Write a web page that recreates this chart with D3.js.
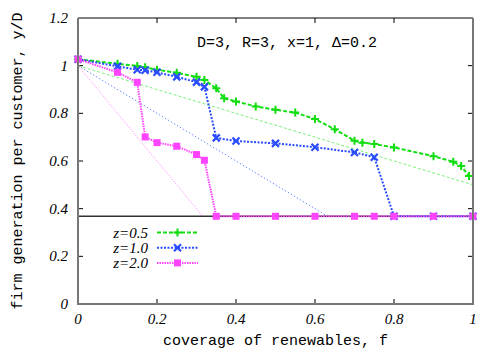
<!DOCTYPE html>
<html>
<head>
<meta charset="utf-8">
<script src="https://cdn.jsdelivr.net/npm/d3@7"></script>
<style>
  body { margin: 0; background: #fff; }
  svg { display: block; }
</style>
</head>
<body>
<script>
// data
const xTicks = [0, 0.2, 0.4, 0.6, 0.8, 1];
const yTicks = [0, 0.2, 0.4, 0.6, 0.8, 1, 1.2];
const xTickLabels = ["0", "0.2", "0.4", "0.6", "0.8", "1"];
const yTickLabels = ["0", "0.2", "0.4", "0.6", "0.8", "1", "1.2"];

const floorValue = 0.368; // black horizontal line

const fGreen = [0, 0.1, 0.15, 0.17, 0.2, 0.25, 0.3, 0.32, 0.35, 0.37, 0.4, 0.45, 0.5, 0.55, 0.6, 0.65, 0.7, 0.72, 0.75, 0.8, 0.9, 0.95, 0.97, 0.99];
const yGreen = [1.027, 1.008, 0.999, 0.993, 0.983, 0.970, 0.953, 0.940, 0.905, 0.863, 0.850, 0.829, 0.815, 0.803, 0.776, 0.733, 0.685, 0.677, 0.671, 0.657, 0.620, 0.597, 0.579, 0.537];

const fBlue = [0, 0.1, 0.15, 0.17, 0.2, 0.25, 0.3, 0.32, 0.35, 0.4, 0.5, 0.6, 0.7, 0.75, 0.8, 0.9, 1.0];
const yBlue = [1.027, 0.997, 0.983, 0.981, 0.972, 0.953, 0.931, 0.911, 0.697, 0.684, 0.674, 0.658, 0.636, 0.616, 0.368, 0.368, 0.368];

const fMagenta = [0, 0.1, 0.15, 0.17, 0.2, 0.25, 0.3, 0.32, 0.35, 0.4, 0.5, 0.6, 0.7, 0.75, 0.8, 0.9, 1.0];
const yMagenta = [1.027, 0.972, 0.930, 0.701, 0.677, 0.662, 0.627, 0.603, 0.368, 0.368, 0.368, 0.368, 0.368, 0.368, 0.368, 0.368, 0.368];

// thin reference lines (endpoints)
const refGreen = [[0, 1], [1, 0.5]];
const refBlue = [[0, 1], [0.632, 0.368]];
const refMagenta = [[0, 1], [0.316, 0.368]];

const legendLabels = ["z=0.5", "z=1.0", "z=2.0"];
const annotation = "D=3, R=3, x=1, \u0394=0.2";

const W = 500, H = 350;
const margin = {top: 18, right: 27, bottom: 46, left: 78};
const width = W - margin.left - margin.right;
const height = H - margin.top - margin.bottom;

const svg = d3.select("body").append("svg")
  .attr("width", W)
  .attr("height", H);
const g = svg.append("g")
  .attr("transform", "translate(" + margin.left + "," + margin.top + ")");

const x = d3.scaleLinear().domain([0, 1]).range([0, width]);
const y = d3.scaleLinear().domain([0, 1.2]).range([height, 0]);

const serif = "'Liberation Serif', 'DejaVu Serif', serif";
const mono = "'Liberation Mono', 'DejaVu Sans Mono', monospace";

// ticks (inward, all sides)
const tl = 5;
const tickG = g.append("g").attr("stroke", "#000").attr("stroke-width", 1);
xTicks.slice(1, -1).forEach(t => {
  tickG.append("line").attr("x1", x(t)).attr("x2", x(t)).attr("y1", height).attr("y2", height - tl);
  tickG.append("line").attr("x1", x(t)).attr("x2", x(t)).attr("y1", 0).attr("y2", tl);
});
yTicks.slice(1, -1).forEach(t => {
  tickG.append("line").attr("x1", 0).attr("x2", tl).attr("y1", y(t)).attr("y2", y(t));
  tickG.append("line").attr("x1", width).attr("x2", width - tl).attr("y1", y(t)).attr("y2", y(t));
});

// tick labels
g.append("g").selectAll("text")
  .data(xTicks)
  .enter().append("text")
    .attr("x", d => x(d))
    .attr("y", height + 20)
    .attr("text-anchor", "middle")
    .attr("font-family", serif)
    .attr("font-style", "italic")
    .attr("font-size", 15)
    .text((d, i) => xTickLabels[i]);
g.append("g").selectAll("text")
  .data(yTicks)
  .enter().append("text")
    .attr("x", -10)
    .attr("y", d => y(d) + 5)
    .attr("text-anchor", "end")
    .attr("font-family", serif)
    .attr("font-style", "italic")
    .attr("font-size", 15)
    .text((d, i) => yTickLabels[i]);

// axis titles
svg.append("text")
  .attr("x", margin.left + width / 2)
  .attr("y", 345)
  .attr("text-anchor", "middle")
  .attr("font-family", mono)
  .attr("font-size", 15)
  .text("coverage of renewables, f");
svg.append("text")
  .attr("transform", "translate(22," + (margin.top + height / 2) + ") rotate(-90)")
  .attr("text-anchor", "middle")
  .attr("font-family", mono)
  .attr("font-size", 15)
  .text("firm generation per customer, y/D");

// annotation
g.append("text")
  .attr("x", x(0.301))
  .attr("y", 29)
  .attr("font-family", mono)
  .attr("font-size", 15)
  .text(annotation);

// thin reference lines
const line = d3.line().x(d => x(d[0])).y(d => y(d[1]));
g.append("path").datum(refGreen).attr("d", line)
  .attr("fill", "none").attr("stroke", "#7cf07c").attr("stroke-width", 1).attr("stroke-dasharray", "3,2");
g.append("path").datum(refBlue).attr("d", line)
  .attr("fill", "none").attr("stroke", "#7090ff").attr("stroke-width", 1).attr("stroke-dasharray", "1.5,2");
g.append("path").datum(refMagenta).attr("d", line)
  .attr("fill", "none").attr("stroke", "#ff7cff").attr("stroke-width", 1).attr("stroke-dasharray", "1,1.5");

// floor line
g.append("line")
  .attr("x1", x(0)).attr("x2", x(1))
  .attr("y1", y(floorValue)).attr("y2", y(floorValue))
  .attr("stroke", "#333").attr("stroke-width", 1.5);

const series = [
  {f: fGreen, v: yGreen, color: "#11dd11", dash: "4,2", marker: "plus"},
  {f: fBlue, v: yBlue, color: "#2a4cff", dash: "2,1.5", marker: "cross"},
  {f: fMagenta, v: yMagenta, color: "#ff44ff", dash: "1.5,1", marker: "square"}
];

function drawMarker(sel, type, color) {
  if (type === "plus") {
    sel.append("path").attr("d", "M-4,0H4M0,-4V4")
      .attr("stroke", color).attr("stroke-width", 2).attr("fill", "none");
  } else if (type === "cross") {
    sel.append("path").attr("d", "M-3.5,-3.5L3.5,3.5M-3.5,3.5L3.5,-3.5")
      .attr("stroke", color).attr("stroke-width", 2.2).attr("fill", "none");
  } else {
    sel.append("rect").attr("x", -3.5).attr("y", -3.5).attr("width", 7).attr("height", 7)
      .attr("fill", color);
  }
}

series.forEach(s => {
  const pts = s.f.map((f, i) => [f, s.v[i]]);
  g.append("path").datum(pts).attr("d", line)
    .attr("fill", "none").attr("stroke", s.color)
    .attr("stroke-width", 2).attr("stroke-dasharray", s.dash);
  g.append("g").selectAll("g")
    .data(pts)
    .enter().append("g")
      .attr("transform", d => "translate(" + x(d[0]) + "," + y(d[1]) + ")")
      .each(function() { drawMarker(d3.select(this), s.marker, s.color); });
});

// legend
const legend = svg.append("g");
series.forEach((s, i) => {
  const ly = 232.5 + i * 15.2;
  legend.append("text")
    .attr("x", 148).attr("y", ly + 5)
    .attr("text-anchor", "end")
    .attr("font-family", serif)
    .attr("font-style", "italic")
    .attr("font-size", 15)
    .text(legendLabels[i]);
  legend.append("line")
    .attr("x1", 157).attr("x2", 198).attr("y1", ly).attr("y2", ly)
    .attr("stroke", s.color).attr("stroke-width", 2).attr("stroke-dasharray", s.dash);
  const m = legend.append("g").attr("transform", "translate(177.5," + ly + ")");
  drawMarker(m, s.marker, s.color);
});

// frame: thin top, heavier grey left/right/bottom
g.append("line").attr("x1", 0).attr("x2", width).attr("y1", 0).attr("y2", 0)
  .attr("stroke", "#000").attr("stroke-width", 1);
g.append("path")
  .attr("d", "M0,0V" + height + "H" + width + "V0")
  .attr("fill", "none").attr("stroke", "#777").attr("stroke-width", 2);
</script>
</body>
</html>
